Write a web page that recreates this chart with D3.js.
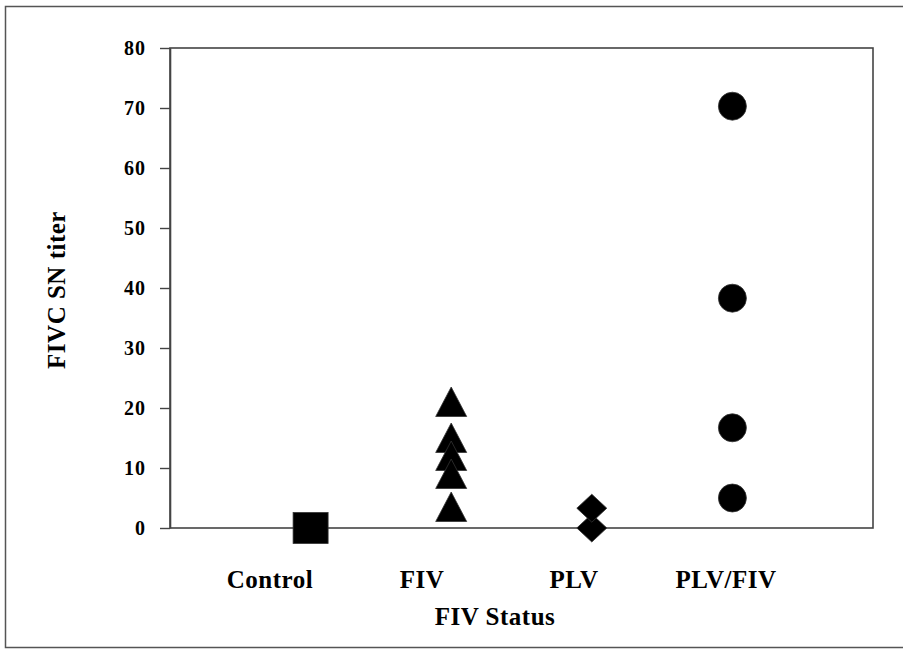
<!DOCTYPE html>
<html>
<head>
<meta charset="utf-8">
<script src="https://cdn.jsdelivr.net/npm/d3@7"></script>
<style>
  body { margin: 0; background: #fff; }
  text { font-family: "Liberation Serif", "Times New Roman", serif; font-weight: bold; fill: #000; }
</style>
</head>
<body>
<script>
//data
var categories = ["Control", "FIV", "PLV", "PLV/FIV"];
var controlTiters = [0];
var fivTiters = [21, 15, 12, 9, 3.5];
var plvTiters = [0, 3.3];
var plvFivTiters = [70.3, 38.3, 16.7, 5];
var yTicks = [0, 10, 20, 30, 40, 50, 60, 70, 80];

//globals (plot box in pixels)
var width = 903, height = 652;
var plotLeft = 170, plotRight = 873, plotTop = 48, plotBottom = 528;

var svgDoc = d3.select("body").append("svg")
    .attr("width", width)
    .attr("height", height);

//outer frame (right edge runs off the picture)
svgDoc.append("rect")
    .attr("x", 5.5).attr("y", 6.5)
    .attr("width", 905).attr("height", 641)
    .attr("fill", "none")
    .attr("stroke", "#555")
    .attr("stroke-width", 1.5);

//scales
var x = d3.scaleLinear().domain([0, categories.length + 1]).range([plotLeft, plotRight]);
var y = d3.scaleLinear().domain([0, 80]).range([plotBottom, plotTop]);
//category labels sit a little off the marker columns in the original
var xLabel = d3.scalePoint().domain(categories).range([270, 726]);

//plot frame
svgDoc.append("rect")
    .attr("x", plotLeft).attr("y", plotTop)
    .attr("width", plotRight - plotLeft).attr("height", plotBottom - plotTop)
    .attr("fill", "none")
    .attr("stroke", "#444")
    .attr("stroke-width", 1.6);

//y axis
var yAxis = svgDoc.append("g")
    .attr("transform", "translate(" + plotLeft + ",0)")
    .call(d3.axisLeft(y).tickValues(yTicks).tickSize(10).tickPadding(14).tickSizeOuter(0));
yAxis.select(".domain").attr("stroke", "#444").attr("stroke-width", 1.6);
yAxis.selectAll(".tick line").attr("stroke", "#444").attr("stroke-width", 1.4);
yAxis.selectAll(".tick text")
    .style("font-family", "'Liberation Serif', serif")
    .style("font-weight", "bold")
    .style("font-size", "20px")
    .style("letter-spacing", "1px")
    .attr("fill", "#000");

//x category labels
svgDoc.append("g").selectAll("text")
    .data(categories)
    .enter()
    .append("text")
    .attr("x", function(d){ return xLabel(d); })
    .attr("y", 588)
    .attr("text-anchor", "middle")
    .style("font-size", "25px")
    .style("letter-spacing", "0.5px")
    .text(function(d){ return d; });

//axis titles
svgDoc.append("text")
    .attr("x", 495)
    .attr("y", 625)
    .attr("text-anchor", "middle")
    .style("font-size", "25px")
    .style("letter-spacing", "0.5px")
    .text("FIV Status");

svgDoc.append("text")
    .attr("transform", "translate(65,290) rotate(-90)")
    .attr("text-anchor", "middle")
    .style("font-size", "25px")
    .style("letter-spacing", "0.5px")
    .text("FIVC SN titer");

var marks = svgDoc.append("g")
    .attr("fill", "#000")
    .attr("stroke", "#333")
    .attr("stroke-width", 0.8);

//control - squares
marks.selectAll("rect.control")
    .data(controlTiters)
    .enter()
    .append("rect")
    .attr("class", "control")
    .attr("x", x(1) - 17.5)
    .attr("y", function(d){ return y(d) - 15.5; })
    .attr("width", 35)
    .attr("height", 31);

//FIV - triangles
marks.selectAll("path.fiv")
    .data(fivTiters)
    .enter()
    .append("path")
    .attr("class", "fiv")
    .attr("d", function(d){
        var cx = x(2), cy = y(d);
        return "M" + cx + "," + (cy - 15) + "L" + (cx + 15.5) + "," + (cy + 14.5) +
               "L" + (cx - 15.5) + "," + (cy + 14.5) + "Z";
    });

//PLV - diamonds
marks.selectAll("path.plv")
    .data(plvTiters)
    .enter()
    .append("path")
    .attr("class", "plv")
    .attr("d", function(d){
        var cx = x(3), cy = y(d);
        return "M" + cx + "," + (cy - 14) + "L" + (cx + 15) + "," + cy +
               "L" + cx + "," + (cy + 14) + "L" + (cx - 15) + "," + cy + "Z";
    });

//PLV/FIV - circles
marks.selectAll("circle.plvfiv")
    .data(plvFivTiters)
    .enter()
    .append("circle")
    .attr("class", "plvfiv")
    .attr("cx", x(4))
    .attr("cy", function(d){ return y(d); })
    .attr("r", 14);
</script>
</body>
</html>
